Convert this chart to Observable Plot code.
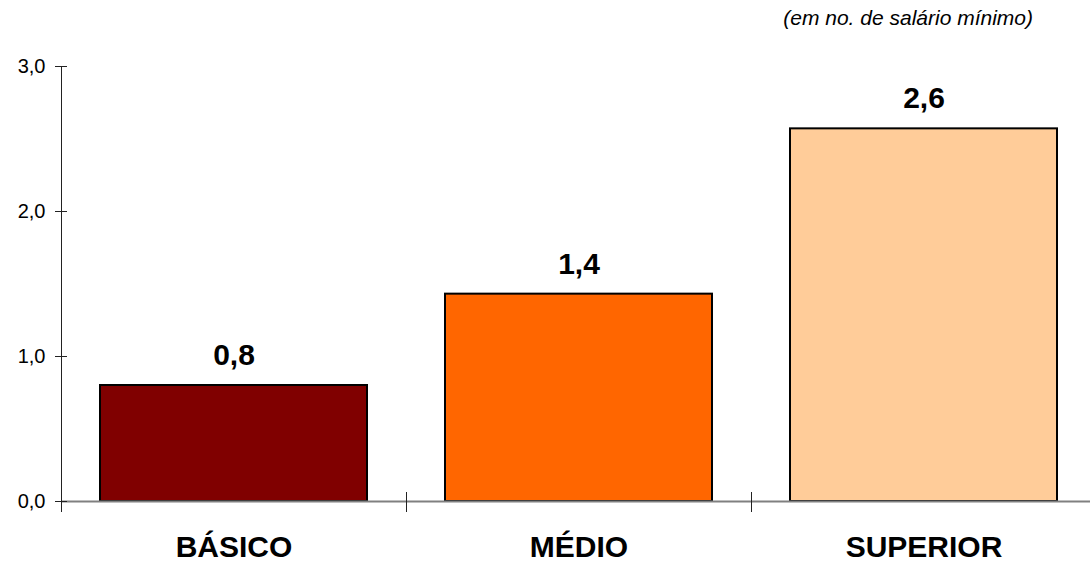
<!DOCTYPE html>
<html>
<head>
<meta charset="utf-8">
<script src="https://cdn.jsdelivr.net/npm/d3@7"></script>
<script src="https://cdn.jsdelivr.net/npm/@observablehq/plot@0.6"></script>
<style>
  html, body { margin: 0; padding: 0; background: #fff; }
  #wrap { position: relative; width: 1090px; height: 562px; font-family: "Liberation Sans", Arial, sans-serif; }
  #sub { position: absolute; right: 57px; top: 6px; font-size: 21px; line-height: 24px; font-style: italic; color: #000; }
  svg { overflow: visible; }
</style>
</head>
<body>
<div id="wrap">
  <div id="sub">(em no. de salário mínimo)</div>
  <div id="chart"></div>
</div>
<script>
const categories = ["BÁSICO", "MÉDIO", "SUPERIOR"];
const values = [0.8, 1.43, 2.57];
const colors = ["#800000", "#FF6600", "#FFCC99"];
const yTicks = [0, 1, 2, 3];

const data = categories.map((c, i) => ({cat: c, value: values[i], color: colors[i]}));
const fmt = v => d3.format(".1f")(v).replace(".", ",");

const chart = Plot.plot({
  width: 1090,
  height: 562,
  marginLeft: 61,
  marginRight: 0,
  marginTop: 66,
  marginBottom: 61,
  style: {fontFamily: "Liberation Sans, Arial, sans-serif", background: "transparent"},
  x: {domain: categories, range: [61, 1096], paddingInner: 0.226, paddingOuter: 0.113, axis: null, label: null},
  y: {domain: [0, 3], axis: null, label: null},
  marks: [
    Plot.barY(data, {x: "cat", y: "value", fill: "color", stroke: "#000", strokeWidth: 2}),
    Plot.ruleY([0], {stroke: "#808080", strokeWidth: 2}),
    Plot.frame({anchor: "left", stroke: "#222"}),
    Plot.axisY({ticks: yTicks, tickSize: 12, dx: 6, tickPadding: 10, tickFormat: fmt, fontSize: 20, stroke: "#222", color: "#000", label: null}),
    Plot.axisX({tickSize: 20, dx: -172.5, dy: -9, stroke: "#222", tickFormat: () => "", label: null}),
    Plot.text(data, {x: "cat", y: "value", text: d => fmt(d.value), dy: -30, fontSize: 30, fontWeight: "bold", fill: "#000"}),
    Plot.text(data, {x: "cat", y: 0, text: "cat", dy: 46, fontSize: 30, fontWeight: "bold", fill: "#000"})
  ]
});
document.getElementById("chart").appendChild(chart);
</script>
</body>
</html>
